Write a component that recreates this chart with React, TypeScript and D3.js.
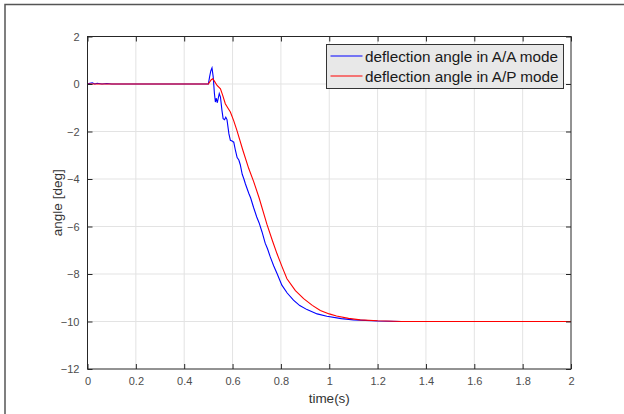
import React, { useEffect, useRef } from "react";
import * as d3 from "d3";

// A/A mode (blue)
const timeAA = [0, 0.01, 0.02, 0.03, 0.04, 0.06, 0.08, 0.1, 0.5, 0.505, 0.51, 0.515, 0.52, 0.525, 0.529, 0.533, 0.537, 0.545, 0.55, 0.556, 0.561, 0.567, 0.572, 0.577, 0.585, 0.591, 0.598, 0.605, 0.612, 0.619, 0.626, 0.632, 0.64, 0.647, 0.653, 0.66, 0.667, 0.675, 0.687, 0.7, 0.71, 0.722, 0.735, 0.745, 0.756, 0.77, 0.784, 0.804, 0.826, 0.852, 0.878, 0.908, 0.95, 0.99, 1.05, 1.1, 1.2, 1.3, 2];
const angleAA = [0, 0.03, 0.05, 0.0, 0.03, 0.0, 0.02, 0.0, 0.0, 0.3, 0.55, 0.68, 0.3, -0.4, -0.76, -0.6, -0.79, -0.4, -0.55, -1.1, -1.46, -1.5, -1.4, -1.5, -2.1, -2.37, -2.4, -2.45, -2.8, -3.1, -3.2, -3.4, -3.8, -4.0, -4.2, -4.4, -4.6, -4.8, -5.2, -5.6, -5.85, -6.23, -6.7, -6.95, -7.28, -7.65, -7.98, -8.47, -8.8, -9.1, -9.33, -9.5, -9.68, -9.78, -9.88, -9.93, -9.98, -10, -10];

// A/P mode (red)
const timeAP = [0, 0.5, 0.505, 0.512, 0.518, 0.525, 0.536, 0.55, 0.56, 0.57, 0.58, 0.591, 0.605, 0.618, 0.643, 0.667, 0.687, 0.71, 0.742, 0.765, 0.784, 0.805, 0.825, 0.86, 0.894, 0.93, 0.963, 1.0, 1.03, 1.08, 1.128, 1.2, 1.3, 2];
const angleAP = [0, 0, 0.08, 0.18, 0.22, 0.12, -0.06, -0.2, -0.5, -0.83, -1.0, -1.18, -1.55, -1.95, -2.8, -3.56, -4.1, -4.8, -5.9, -6.6, -7.15, -7.7, -8.2, -8.7, -9.04, -9.32, -9.54, -9.68, -9.77, -9.87, -9.93, -9.97, -10, -10];

const xTicks = [0, 0.2, 0.4, 0.6, 0.8, 1, 1.2, 1.4, 1.6, 1.8, 2];
const yTicks = [2, 0, -2, -4, -6, -8, -10, -12];
const legendLabels = ["deflection angle in A/A mode", "deflection angle in A/P mode"];
const colors = ["#0000ff", "#ff0000"];

export default function App() {
  const ref = useRef<SVGSVGElement>(null);

  useEffect(() => {
    const svg = d3.select(ref.current);
    svg.selectAll("*").remove();

    const width = 624;
    const height = 414;
    const margin = { top: 36.5, right: 53, bottom: 45, left: 87.5 };
    const font = "'Liberation Sans', Arial, Helvetica, sans-serif";

    const x = d3.scaleLinear().domain([0, 2]).range([margin.left, width - margin.right]);
    const y = d3.scaleLinear().domain([-12, 2]).range([height - margin.bottom, margin.top]);

    svg.append("rect").attr("width", width).attr("height", height).attr("fill", "#fff");

    // figure frame
    svg.append("rect")
      .attr("x", 5).attr("y", 4.5)
      .attr("width", 700).attr("height", 500)
      .attr("fill", "none")
      .attr("stroke", "#555")
      .attr("stroke-width", 1.5);

    // grid
    svg.append("g").selectAll("line")
      .data(xTicks.slice(1, -1))
      .enter().append("line")
      .attr("x1", d => x(d)).attr("x2", d => x(d))
      .attr("y1", y(2)).attr("y2", y(-12))
      .attr("stroke", "#e3e3e3");
    svg.append("g").selectAll("line")
      .data(yTicks.slice(1, -1))
      .enter().append("line")
      .attr("x1", x(0)).attr("x2", x(2))
      .attr("y1", d => y(d)).attr("y2", d => y(d))
      .attr("stroke", "#e3e3e3");

    // lines
    const series = [
      timeAA.map((t, i) => [t, angleAA[i]]),
      timeAP.map((t, i) => [t, angleAP[i]]),
    ];
    const line = d3.line<number[]>().x(d => x(d[0])).y(d => y(d[1]));
    series.forEach((s, i) => {
      svg.append("path")
        .attr("d", line(s))
        .attr("fill", "none")
        .attr("stroke", colors[i])
        .attr("stroke-width", 1.1);
    });

    // axes box with inward ticks
    const axisColor = "#262626";
    svg.append("g").attr("transform", `translate(0,${y(-12)})`)
      .call(d3.axisBottom(x).tickValues(xTicks).tickSizeInner(-5).tickSizeOuter(0).tickPadding(8).tickFormat(d3.format("")))
      .call(g => g.select(".domain").remove());
    svg.append("g").attr("transform", `translate(0,${y(2)})`)
      .call(d3.axisTop(x).tickValues(xTicks).tickSizeInner(-5).tickSizeOuter(0).tickFormat(() => ""))
      .call(g => g.select(".domain").remove());
    svg.append("g").attr("transform", `translate(${x(0)},0)`)
      .call(d3.axisLeft(y).tickValues(yTicks).tickSizeInner(-5).tickSizeOuter(0).tickPadding(8).tickFormat(d3.format("")))
      .call(g => g.select(".domain").remove());
    svg.append("g").attr("transform", `translate(${x(2)},0)`)
      .call(d3.axisRight(y).tickValues(yTicks).tickSizeInner(-5).tickSizeOuter(0).tickFormat(() => ""))
      .call(g => g.select(".domain").remove());

    svg.selectAll(".tick line").attr("stroke", axisColor);
    svg.selectAll(".tick text")
      .attr("fill", "#4d4d4d")
      .attr("font-family", font)
      .attr("font-size", 11);

    svg.append("rect")
      .attr("x", x(0)).attr("y", y(2))
      .attr("width", x(2) - x(0)).attr("height", y(-12) - y(2))
      .attr("fill", "none")
      .attr("stroke", axisColor)
      .attr("stroke-width", 1);

    // axis labels
    svg.append("text")
      .attr("x", (x(0) + x(2)) / 2)
      .attr("y", 403)
      .attr("text-anchor", "middle")
      .attr("font-family", font)
      .attr("font-size", 13.5)
      .attr("fill", "#333")
      .text("time(s)");
    svg.append("text")
      .attr("transform", `translate(62,${(y(2) + y(-12)) / 2}) rotate(-90)`)
      .attr("text-anchor", "middle")
      .attr("font-family", font)
      .attr("font-size", 13.5)
      .attr("fill", "#333")
      .text("angle [deg]");

    // legend
    const lg = svg.append("g").attr("transform", "translate(326.5,44.5)");
    lg.append("rect")
      .attr("width", 237).attr("height", 44)
      .attr("fill", "#e8e8e8")
      .attr("stroke", "#333")
      .attr("stroke-width", 1);
    legendLabels.forEach((label, i) => {
      const cy = 11.5 + i * 20;
      lg.append("line")
        .attr("x1", 4).attr("x2", 36)
        .attr("y1", cy).attr("y2", cy)
        .attr("stroke", colors[i])
        .attr("stroke-width", 1.1);
      lg.append("text")
        .attr("x", 38.5).attr("y", cy + 5.5)
        .attr("font-family", font)
        .attr("font-size", 15.3)
        .attr("fill", "#1a1a1a")
        .text(label);
    });
  }, []);

  return (
    <div style={{ position: "absolute", left: 0, top: 0 }}>
      <svg ref={ref} width={624} height={414} style={{ display: "block" }} />
    </div>
  );
}
